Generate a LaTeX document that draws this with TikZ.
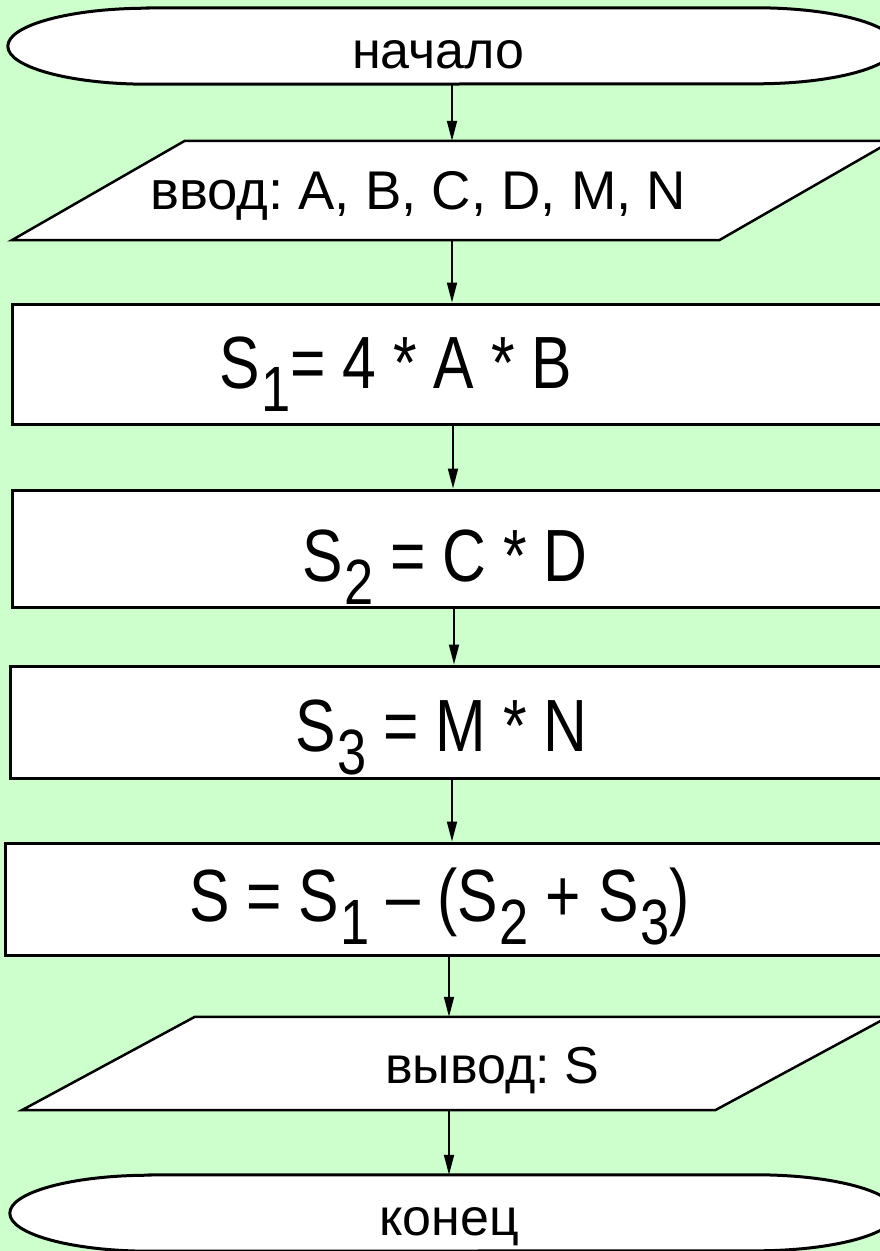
\documentclass[tikz,border=0pt]{standalone}
\usepackage{fontspec}
\setmainfont{Liberation Sans}
\frenchspacing
\usetikzlibrary{arrows.meta,calc}
\definecolor{bggreen}{HTML}{CCFFCC}
\newcommand{\lowidx}[1]{\hspace{2pt}\raisebox{-23pt}{\fontsize{64}{70}\selectfont #1}}
\newcommand{\termshape}[1]{%
  \draw[term] ($(#1.north west)+(140,0)$) -- ($(#1.north east)+(-140,0)$)
    arc[start angle=90, end angle=-90, x radius=140pt, y radius=38pt]
    -- ($(#1.south west)+(140,0)$)
    arc[start angle=270, end angle=90, x radius=140pt, y radius=38pt] -- cycle;}
\newcommand{\ioshape}[2]{%
  \draw[io] ($(#1.north west)+(#2,0)$) -- (#1.north east)
    -- ($(#1.south east)+(-#2,0)$) -- (#1.south west) -- cycle;}

\begin{document}
\begin{tikzpicture}[
    x=1pt, y=-1pt,
    shapebox/.style={draw=none, inner sep=0pt},
    term/.style={draw, line width=3pt, fill=white},
    io/.style={draw, line width=2.5pt, fill=white},
    proc/.style={draw, line width=3pt, fill=white, inner sep=0pt},
    lbl/.style={font=\fontsize{52}{60}\selectfont, inner sep=0pt, anchor=base west},
    frm/.style={font=\fontsize{74}{84}\selectfont, inner sep=0pt, anchor=base west},
    arr/.style={-{Triangle[length=20pt,width=10pt]}, line width=1.8pt},
]
\useasboundingbox (0,0) rectangle (880,1251);
\fill[bggreen] (0,0) rectangle (880,1251);
\clip (0,0) rectangle (880,1251);

\node[shapebox, minimum width=888pt, minimum height=76pt] (start) at (452,46) {};
\termshape{start}
\node[shapebox, minimum width=880pt, minimum height=99pt] (in) at (452,190.5) {};
\ioshape{in}{173}
\node[proc, minimum width=882pt, minimum height=120pt] (r1) at (453,364) {};
\node[proc, minimum width=884pt, minimum height=117pt] (r2) at (454,548.5) {};
\node[proc, minimum width=884pt, minimum height=112pt] (r3) at (452,722) {};
\node[proc, minimum width=888pt, minimum height=112pt] (r4) at (449,899) {};
\node[shapebox, minimum width=866pt, minimum height=93pt] (out) at (455,1063.5) {};
\ioshape{out}{173}
\node[shapebox, minimum width=886pt, minimum height=76pt] (stop) at (453,1213) {};
\termshape{stop}

\node[lbl] (start-t) at (352,68) {начало};
\node[lbl, font=\fontsize{54.5}{60}\selectfont] (in-t) at (150,209) {ввод: A, B, C, D, M, N};
\node[frm] (r1-t) at (219,388) {\scalebox{0.82}[1]{S\lowidx{1}= 4 * A * B}};
\node[frm] (r2-t) at (302,581) {\scalebox{0.82}[1]{S\lowidx{2} = C * D}};
\node[frm] (r3-t) at (295,751) {\scalebox{0.82}[1]{S\lowidx{3} = M * N}};
\node[frm] (r4-t) at (189,921) {\scalebox{0.82}[1]{S = S\lowidx{1} – (S\lowidx{2} + S\lowidx{3})}};
\node[lbl] (out-t) at (385,1083) {вывод: S};
\node[lbl] (stop-t) at (379,1235) {конец};

\draw[arr] (start.south) -- (start.south |- in.north);
\draw[arr] (in.south) -- (in.south |- r1.north);
\draw[arr] (r1.south) -- (r1.south |- r2.north);
\draw[arr] (r2.south) -- (r2.south |- r3.north);
\draw[arr] (r3.south) -- (r3.south |- r4.north);
\draw[arr] (r4.south) -- (r4.south |- out.north);
\draw[arr] (out.south -| r4.south) -- (r4.south |- stop.north);
\end{tikzpicture}
\end{document}
